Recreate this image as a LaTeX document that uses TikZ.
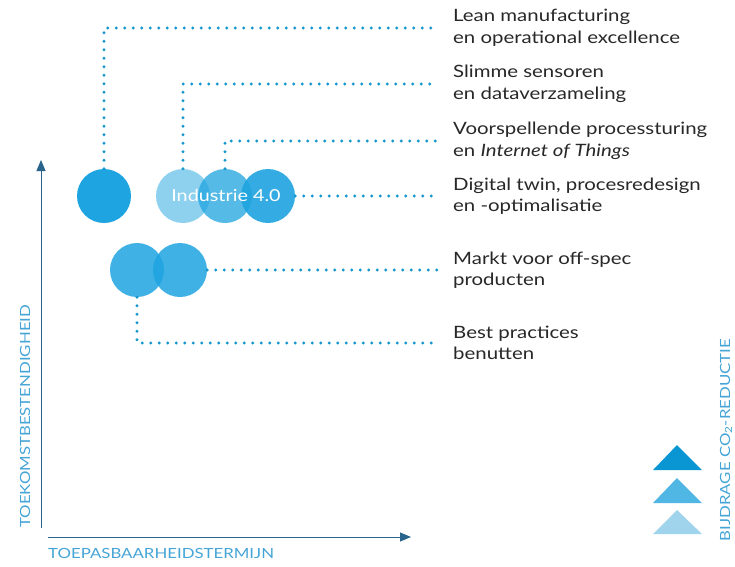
\documentclass[tikz,border=0pt]{standalone}
\usepackage{fontspec}
\setmainfont{Lato}[FakeStretch=1.2]
\usetikzlibrary{positioning,arrows.meta,calc}
\definecolor{cirkelblauw}{RGB}{30,164,224}
\definecolor{stippelblauw}{RGB}{22,150,205}
\definecolor{asblauw}{RGB}{40,100,140}
\definecolor{astekstblauw}{RGB}{70,165,215}
\definecolor{tekstgrijs}{RGB}{40,40,40}
\definecolor{tridonker}{RGB}{10,150,210}
\definecolor{trimidden}{RGB}{80,182,228}
\definecolor{trilicht}{RGB}{160,211,236}
\begin{document}
\begin{tikzpicture}[x=1pt,y=-1pt]
    % Stijlen
    \tikzset{
        cirkel/.style={circle, fill=cirkelblauw, minimum size=54pt, inner sep=0pt},
        tekst/.style={anchor=west, inner xsep=16pt, inner ysep=0pt, align=left, text=tekstgrijs, font=\fontsize{17}{21.5}\selectfont},
        stippel/.style={draw=stippelblauw, line width=3.2pt, line cap=round, dash pattern=on 0pt off 8.5pt},
        as/.style={draw=asblauw, line width=1pt, -{Triangle[length=11pt,width=9pt]}},
        astekst/.style={text=astekstblauw, inner sep=0pt, font=\fontsize{14}{14}\selectfont}
    }
    \useasboundingbox[fill=white] (0,0) rectangle (735,566);

    % Cirkels
    \node[cirkel] (lean1) at (104,196) {};
    \node[cirkel, fill opacity=0.5] (slim1) at (183,196) {};
    \node[cirkel, fill opacity=0.75] (voorsp1) at (225,196) {};
    \node[cirkel, fill opacity=0.9] (digital1) at (268,196) {};
    \node[text=white, font=\fontsize{16.5}{16.5}\selectfont] (industrie) at (226,195) {Industrie 4.0};
    \node[cirkel, fill opacity=0.85] (markt1) at (137,270) {};
    \node[cirkel, fill opacity=0.85] (markt2) at (180,270) {};

    % Teksten
    \node[tekst] (lean) at (437,28) {Lean manufacturing\\en operational excellence};
    \node[tekst] (slim) at (437,84) {Slimme sensoren\\en dataverzameling};
    \node[tekst] (voorsp) at (437,141) {Voorspellende processturing\\en \textit{Internet of Things}};
    \node[tekst] (digital) at (437,196) {Digital twin, procesredesign\\en -optimalisatie};
    \node[tekst] (markt) at (437,270) {Markt voor off-spec\\producten};
    \node[tekst] (best) at (437,343) {Best practices\\benutten};

    % Stippellijnen
    \draw[stippel] (lean1.north) |- (lean.west);
    \draw[stippel] (slim1.north) |- (slim.west);
    \draw[stippel] (voorsp1.north) |- (voorsp.west);
    \draw[stippel] (digital1.east) -- (digital.west);
    \draw[stippel] (markt2.east) -- (markt.west);
    \draw[stippel] (markt1.south) |- (best.west);

    % Assen
    \coordinate (yonder) at (41,528);
    \coordinate (yboven) at (41,160);
    \coordinate (xlinks) at (48,537);
    \coordinate (xrechts) at (411,537);
    \draw[as] (yonder) -- (yboven);
    \draw[as] (xlinks) -- (xrechts);
    \node[astekst, rotate=90, anchor=west] (yas) at (25,528) {TOEKOMSTBESTENDIGHEID};
    \node[astekst, anchor=west] (xas) at (48,553) {TOEPASBAARHEIDSTERMIJN};

    % Bijdrage CO2-reductie
    \fill[tridonker] (653,470) -- (677,445) -- (702,470) -- cycle;
    \fill[trimidden] (653,503) -- (677,478) -- (702,503) -- cycle;
    \fill[trilicht] (653,534) -- (677,510) -- (702,534) -- cycle;
    \node[astekst, rotate=90] (bijdrage) at (726,440) {BIJDRAGE CO\textsubscript{2}-REDUCTIE};
\end{tikzpicture}
\end{document}
